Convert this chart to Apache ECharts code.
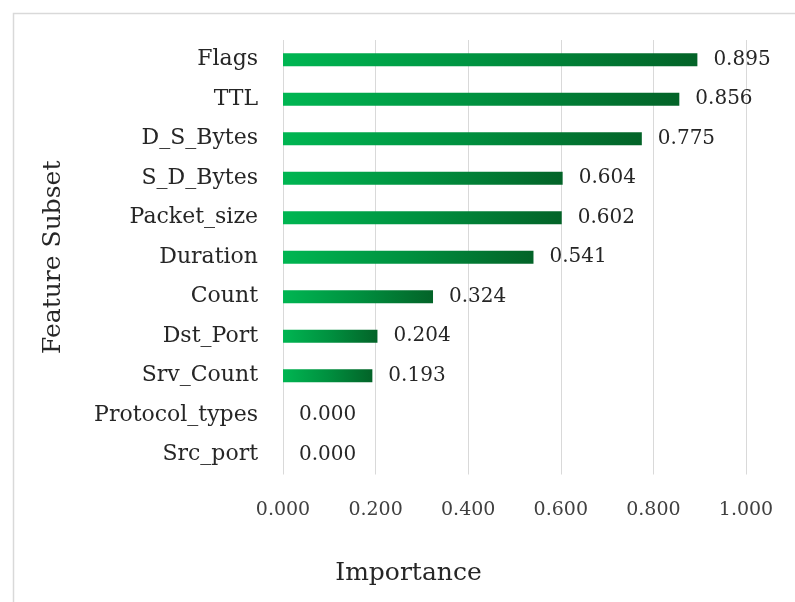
<!DOCTYPE html>
<html>
<head>
<meta charset="utf-8">
<script src="https://cdn.jsdelivr.net/npm/echarts@6/dist/echarts.min.js"></script>
<style>html,body{margin:0;padding:0;background:#fff}#c{width:795px;height:602px}</style>
</head>
<body>
<div id="c"></div>
<script>
var categories = ['Flags','TTL','D_S_Bytes','S_D_Bytes','Packet_size','Duration','Count','Dst_Port','Srv_Count','Protocol_types','Src_port'];
var importance = [0.895,0.856,0.775,0.604,0.602,0.541,0.324,0.204,0.193,0.000,0.000];
var xTicks = [0,0.2,0.4,0.6,0.8,1.0];

var FONT = '"DejaVu Serif", serif';
var chart = echarts.init(document.getElementById('c'));
chart.setOption({
  backgroundColor: '#ffffff',
  animation: false,
  graphic: [{
    type: 'rect', left: 11, top: 11,
    shape: { width: 820, height: 620 },
    style: { fill: 'none', stroke: '#d9d9d9', lineWidth: 1.5 },
    silent: true
  }],
  grid: { left: 283, right: 49, top: 40, bottom: 127.5, containLabel: false },
  xAxis: {
    type: 'value', min: xTicks[0], max: xTicks[xTicks.length - 1], interval: 0.2,
    name: 'Importance', nameLocation: 'middle', nameGap: 86,
    nameTextStyle: { fontFamily: FONT, fontSize: 25, color: '#262626', padding: [0, 212, 0, 0] },
    axisLine: { show: false }, axisTick: { show: false },
    axisLabel: { fontFamily: FONT, fontSize: 19, color: '#404040', margin: 26,
      formatter: function (v) { return v.toFixed(3); } },
    splitLine: { show: true, lineStyle: { color: '#d9d9d9', width: 1 } }
  },
  yAxis: {
    type: 'category', data: categories, inverse: true,
    name: 'Feature Subset', nameLocation: 'middle', nameGap: 217, nameRotate: 90,
    nameTextStyle: { fontFamily: FONT, fontSize: 25, color: '#262626' },
    axisLine: { show: false }, axisTick: { show: false },
    axisLabel: { fontFamily: FONT, fontSize: 22, color: '#262626', margin: 25 },
    splitLine: { show: false }
  },
  series: [{
    type: 'bar', data: importance, barWidth: '33%',
    itemStyle: {
      color: new echarts.graphic.LinearGradient(0, 0, 1, 0, [
        { offset: 0, color: '#00b652' },
        { offset: 0.5, color: '#00903f' },
        { offset: 1, color: '#036328' }
      ])
    },
    label: { show: true, position: 'right', distance: 16, fontFamily: FONT, fontSize: 20, color: '#262626',
      formatter: function (p) { return p.value.toFixed(3); } }
  }]
});
</script>
</body>
</html>
